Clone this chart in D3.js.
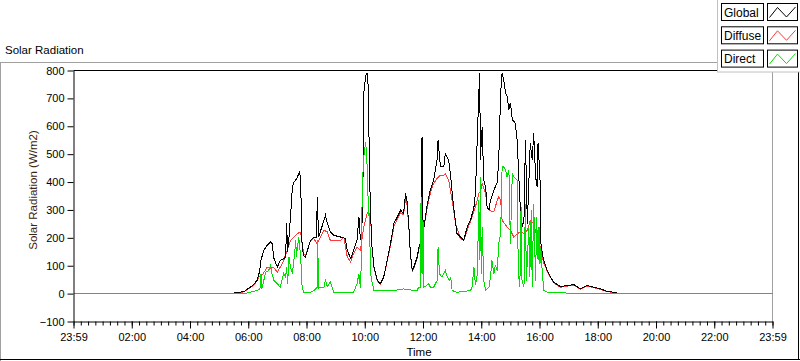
<!DOCTYPE html>
<html>
<head>
<meta charset="utf-8">
<script src="https://cdn.jsdelivr.net/npm/d3@7"></script>
<style>
  html, body { margin: 0; padding: 0; background: #ffffff; }
  svg { display: block; font-family: "Liberation Sans", Arial, sans-serif; }
</style>
</head>
<body>
<svg id="chart" width="800" height="361"></svg>
<script>
// ---------------- DATA ----------------
const chartTitle = "Solar Radiation";
const yAxisTitle = "Solar Radiation (W/m2)";
const xAxisTitle = "Time";
const seriesNames = ["Global", "Diffuse", "Direct"];
const seriesColors = ["#000000", "#ff3c3c", "#00e000"];

const yTicks = [-100, 0, 100, 200, 300, 400, 500, 600, 700, 800];
const xTickTimes = ["00:00","02:00","04:00","06:00","08:00","10:00","12:00","14:00","16:00","18:00","20:00","22:00","24:00"];
const xTickLabels = ["23:59","02:00","04:00","06:00","08:00","10:00","12:00","14:00","16:00","18:00","20:00","22:00","23:59"];

const globalPts = [
  ["00:00",0],["05:21",0],["05:51",7],["06:09",29],["06:18",47],["06:24",83],["06:25",113],["06:32",155],
  ["06:39",173],["06:46",185],["06:49",180],["06:53",126],["07:00",95],["07:06",120],["07:13",125],["07:17",131],
  ["07:19",252],["07:21",150],["07:24",203],["07:27",275],["07:31",383],["07:34",400],["07:39",410],["07:46",437],
  ["07:48",396],["07:51",167],["07:54",137],["07:58",131],["08:08",191],["08:15",203],["08:21",200],["08:22",347],
  ["08:25",203],["08:36",263],["08:39",281],["08:43",252],["08:49",221],["08:56",209],["09:10",203],["09:20",198],
  ["09:24",155],["09:31",126],["09:37",155],["09:44",191],["09:48",275],["09:51",191],["09:55",263],["09:57",479],
  ["09:58",720],["10:02",780],["10:05",792],["10:07",744],["10:08",660],["10:10",419],["10:12",288],["10:15",167],
  ["10:19",95],["10:26",47],["10:32",35],["10:39",59],["10:46",119],["10:53",179],["11:00",251],["11:07",275],
  ["11:14",299],["11:20",287],["11:24",359],["11:27",335],["11:31",239],["11:34",143],["11:38",83],["11:41",95],
  ["11:48",131],["11:53",179],["11:55",167],["11:58",563],["12:00",263],["12:02",239],["12:09",323],["12:15",371],
  ["12:22",407],["12:29",479],["12:31",551],["12:36",455],["12:43",455],["12:46",503],["12:53",479],["12:57",419],
  ["13:03",311],["13:10",215],["13:17",203],["13:24",191],["13:31",239],["13:38",263],["13:45",311],["13:48",359],
  ["13:55",720],["13:57",792],["13:58",479],["14:02",599],["14:05",407],["14:09",383],["14:12",311],["14:16",299],
  ["14:19",335],["14:26",371],["14:33",400],["14:36",479],["14:40",720],["14:43",792],["14:46",768],["14:50",720],
  ["14:53",708],["14:57",660],["15:00",684],["15:04",624],["15:10",612],["15:14",551],["15:17",431],["15:21",287],
  ["15:24",239],["15:28",263],["15:31",551],["15:35",251],["15:41",540],["15:45",479],["15:48",575],["15:52",419],
  ["15:55",383],["15:57",540],["16:01",419],["16:02",191],["16:06",143],["16:09",119],["16:16",83],["16:23",59],
  ["16:29",41],["16:43",25],["16:57",29],["17:11",32],["17:24",17],["17:38",29],["17:52",23],["18:06",17],
  ["18:19",8],["18:32",5],["18:47",0],["24:00",0]
];

const diffusePts = [
  ["00:00",0],["05:21",0],["05:51",6],["06:09",27],["06:18",45],["06:22",59],["06:31",72],["06:39",95],
  ["06:46",90],["06:52",95],["07:00",77],["07:06",95],["07:13",119],["07:20",155],["07:27",191],["07:34",203],
  ["07:41",215],["07:48",221],["07:51",180],["07:54",144],["07:58",137],["08:08",189],["08:15",197],["08:22",179],
  ["08:29",203],["08:36",227],["08:43",221],["08:49",191],["08:56",191],["09:10",191],["09:17",203],["09:24",131],
  ["09:31",113],["09:37",143],["09:44",167],["09:51",155],["09:58",239],["10:05",287],["10:08",293],["10:12",275],
  ["10:15",165],["10:19",93],["10:26",45],["10:32",33],["10:39",57],["10:46",115],["10:53",170],["11:00",240],
  ["11:07",265],["11:14",290],["11:20",283],["11:24",340],["11:27",320],["11:31",232],["11:34",140],["11:38",80],
  ["11:41",90],["11:48",125],["11:53",170],["11:55",165],["11:58",227],["12:02",239],["12:09",311],["12:15",359],
  ["12:22",395],["12:29",413],["12:36",425],["12:43",425],["12:46",431],["12:53",407],["13:00",335],["13:07",251],
  ["13:17",197],["13:24",191],["13:31",227],["13:41",275],["13:48",311],["13:55",359],["13:58",365],["14:02",395],
  ["14:09",359],["14:12",311],["14:16",299],["14:26",293],["14:33",335],["14:36",347],["14:40",335],["14:43",263],
  ["14:53",239],["15:00",227],["15:07",203],["15:14",215],["15:21",221],["15:28",215],["15:35",227],["15:41",263],
  ["15:48",251],["15:55",203],["16:02",167],["16:06",131],["16:09",107],["16:16",81],["16:23",57],["16:29",39],
  ["16:43",23],["16:57",27],["17:11",30],["17:24",16],["17:38",27],["17:52",21],["18:06",15],["18:19",7],
  ["18:32",4],["18:47",0],["24:00",0]
];

const directPts = [
  ["00:00",0],["05:51",0],["06:00",3],["06:05",5],["06:18",11],["06:24",15],["06:25",35],["06:26",71],
  ["06:28",17],["06:36",77],["06:42",83],["06:46",101],["06:49",71],["06:53",47],["07:00",35],["07:06",23],
  ["07:13",71],["07:17",59],["07:19",95],["07:21",35],["07:24",131],["07:27",95],["07:31",71],["07:34",119],
  ["07:38",191],["07:39",131],["07:44",203],["07:48",131],["07:51",23],["07:54",5],["08:08",5],["08:15",11],
  ["08:22",23],["08:23",191],["08:25",20],["08:36",23],["08:39",47],["08:43",25],["08:49",41],["08:56",5],
  ["09:37",5],["09:44",35],["09:48",71],["09:51",20],["09:52",47],["09:55",383],["09:58",491],["10:02",545],
  ["10:04",479],["10:05",455],["10:07",335],["10:10",239],["10:12",71],["10:15",41],["10:19",11],["10:53",11],
  ["11:07",13],["11:20",17],["11:34",13],["11:48",11],["11:51",23],["11:55",23],["11:56",347],["11:58",71],
  ["12:00",263],["12:02",23],["12:12",35],["12:15",23],["12:22",23],["12:29",47],["12:31",167],["12:34",71],
  ["12:39",59],["12:46",83],["12:50",60],["12:55",47],["12:57",59],["13:00",11],["13:10",5],["13:38",11],
  ["13:41",23],["13:45",95],["13:48",30],["13:52",71],["13:55",335],["13:57",119],["13:58",419],["14:00",71],
  ["14:02",239],["14:05",47],["14:09",11],["14:16",23],["14:19",59],["14:22",119],["14:26",71],["14:29",100],
  ["14:33",83],["14:36",179],["14:40",215],["14:43",455],["14:46",455],["14:50",443],["14:53",419],["14:57",443],
  ["15:00",179],["15:04",431],["15:07",419],["15:10",413],["15:14",407],["15:15",215],["15:17",71],["15:19",23],
  ["15:21",119],["15:22",311],["15:24",47],["15:28",23],["15:31",323],["15:33",47],["15:38",239],["15:40",59],
  ["15:43",299],["15:45",23],["15:48",323],["15:52",47],["15:54",275],["15:57",119],["15:59",239],["16:01",107],
  ["16:02",167],["16:06",71],["16:09",11],["16:16",5],["16:23",3],["17:00",2],["18:30",1],["18:47",0],["24:00",0]
];

// ---------------- DRAW ----------------
const toMin = s => (+s.slice(0, 2)) * 60 + (+s.slice(3, 5));
const svg = d3.select("#chart");

const plotL = 73.5, plotR = 772.5, plotT = 70.5, plotB = 321.5;
const x = d3.scaleLinear().domain([0, 1440]).range([plotL, plotR]);
const y = d3.scaleLinear().domain([-100, 800]).range([plotB, plotT]);

// outer panel frame
svg.append("line").attr("x1", 0).attr("x2", 720).attr("y1", 62.5).attr("y2", 62.5).attr("stroke", "#a0a0a0");
svg.append("line").attr("x1", 0.5).attr("x2", 0.5).attr("y1", 62).attr("y2", 361).attr("stroke", "#a0a0a0");
svg.append("line").attr("x1", 0).attr("x2", 800).attr("y1", 359.5).attr("y2", 359.5).attr("stroke", "#000");
svg.append("line").attr("x1", 798.5).attr("x2", 798.5).attr("y1", 62).attr("y2", 360).attr("stroke", "#000");

// title
svg.append("text").attr("x", 5).attr("y", 54).attr("font-size", "11.5px").attr("fill", "#000").text(chartTitle);

// plot frame
svg.append("line").attr("x1", plotL).attr("x2", plotR).attr("y1", plotT).attr("y2", plotT).attr("stroke", "#000");
svg.append("line").attr("x1", plotR).attr("x2", plotR).attr("y1", plotT).attr("y2", plotB).attr("stroke", "#a0a0a0");

// series lines
const line = d3.line()
  .x(d => x(toMin(d[0])))
  .y(d => y(d[1]))
  .curve(d3.curveLinear);

const order = [[diffusePts, 1], [globalPts, 0], [directPts, 2]];
order.forEach(([pts, i]) => {
  svg.append("path")
    .datum(pts)
    .attr("d", line)
    .attr("fill", "none")
    .attr("stroke", seriesColors[i])
    .attr("stroke-width", 1)
    .attr("shape-rendering", "crispEdges");
});

// y axis
const yAxis = d3.axisLeft(y).tickValues(yTicks).tickSize(6).tickSizeOuter(0).tickPadding(3).tickFormat(d3.format("d"));
const gy = svg.append("g").attr("transform", `translate(${plotL},0)`).call(yAxis);
gy.selectAll("text").attr("font-size", "11px").attr("fill", "#000").attr("font-family", "Liberation Sans, Arial, sans-serif");
gy.selectAll("line").attr("stroke", "#000");
gy.select(".domain").attr("stroke", "#000");

// x axis minor ticks (15 min)
const minorTicks = d3.range(0, 1441, 15);
const xMinor = d3.axisBottom(x).tickValues(minorTicks).tickSize(4).tickSizeOuter(0).tickFormat("");
const gxm = svg.append("g").attr("transform", `translate(0,${plotB})`).call(xMinor);
gxm.selectAll("line").attr("stroke", "#000");
gxm.select(".domain").remove();

// x axis major
const xMajor = d3.axisBottom(x)
  .tickValues(xTickTimes.map(toMin))
  .tickSize(7).tickSizeOuter(0).tickPadding(5)
  .tickFormat((d, i) => xTickLabels[i]);
const gx = svg.append("g").attr("transform", `translate(0,${plotB})`).call(xMajor);
gx.selectAll("text").attr("font-size", "11px").attr("fill", "#000").attr("font-family", "Liberation Sans, Arial, sans-serif");
gx.selectAll("line").attr("stroke", "#000");
gx.select(".domain").attr("stroke", "#000");

// axis titles
svg.append("text")
  .attr("transform", `translate(37,${(plotT + plotB) / 2 - 6}) rotate(-90)`)
  .attr("text-anchor", "middle").attr("font-size", "11.5px").attr("fill", "#3a2410")
  .text(yAxisTitle);
svg.append("text")
  .attr("x", 419).attr("y", 355.5).attr("text-anchor", "middle")
  .attr("font-size", "11.5px").attr("fill", "#000")
  .text(xAxisTitle);

// legend panel
const lg = svg.append("g");
lg.append("rect").attr("x", 717.5).attr("y", -1).attr("width", 90).attr("height", 73)
  .attr("fill", "#ffffff").attr("stroke", "#c0c0c0");
seriesNames.forEach((name, i) => {
  const by = 3.5 + i * 23.3;
  lg.append("rect").attr("x", 721.5).attr("y", by).attr("width", 42).attr("height", 17)
    .attr("fill", "#ffffff").attr("stroke", "#000");
  lg.append("text").attr("x", 724).attr("y", by + 13).attr("font-size", "12px").attr("fill", "#000").text(name);
  lg.append("rect").attr("x", 767.5).attr("y", by).attr("width", 30).attr("height", 17)
    .attr("fill", "#ffffff").attr("stroke", "#000");
  const zz = [[2, 14], [10, 4], [19, 13.5], [28, 3.5]];
  lg.append("path")
    .attr("d", d3.line()(zz.map(p => [767.5 + p[0], by + p[1]])))
    .attr("fill", "none").attr("stroke", seriesColors[i]).attr("stroke-width", 1);
});
</script>
</body>
</html>
